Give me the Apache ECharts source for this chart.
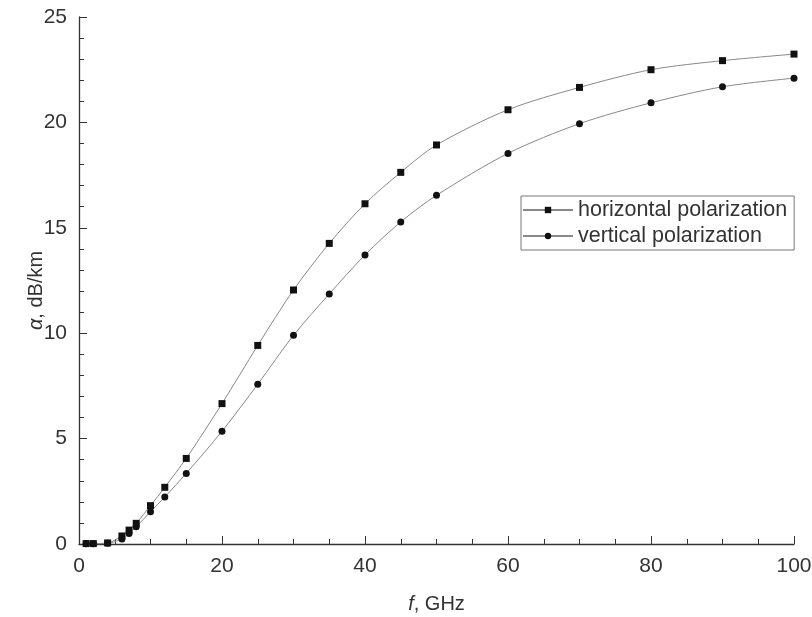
<!DOCTYPE html>
<html>
<head>
<meta charset="utf-8">
<script src="https://cdn.jsdelivr.net/npm/echarts@6/dist/echarts.min.js"></script>
<style>html,body{margin:0;padding:0;background:#fff;}#c{width:812px;height:617px;}</style>
</head>
<body>
<div id="c"></div>
<script>
var freq = [1, 2, 4, 6, 7, 8, 10, 12, 15, 20, 25, 30, 35, 40, 45, 50, 60, 70, 80, 90, 100];
var horizontal = [0.02, 0.02, 0.05, 0.38, 0.66, 0.98, 1.82, 2.69, 4.06, 6.66, 9.42, 12.05, 14.26, 16.14, 17.63, 18.93, 20.6, 21.66, 22.5, 22.93, 23.24];
var vertical = [0.01, 0.01, 0.03, 0.24, 0.5, 0.82, 1.53, 2.23, 3.35, 5.35, 7.58, 9.9, 11.86, 13.71, 15.28, 16.54, 18.53, 19.94, 20.93, 21.69, 22.1];
var seriesNames = ['horizontal polarization', 'vertical polarization'];

function pairs(xs, ys) { return xs.map(function (x, i) { return [x, ys[i]]; }); }

var font = 'Liberation Sans, Arial, sans-serif';
var chart = echarts.init(document.getElementById('c'), null, { renderer: 'canvas' });
chart.setOption({
  animation: false,
  backgroundColor: '#fff',
  textStyle: { fontFamily: font },
  grid: { left: 79, right: 18, top: 17, bottom: 73, containLabel: false, outerBoundsMode: 'none' },
  legend: {
    orient: 'vertical',
    left: 521, top: 196,
    padding: [3, 7, 3, 1],
    itemGap: 4,
    itemWidth: 50, itemHeight: 8,
    borderColor: '#777', borderWidth: 1,
    textStyle: { fontSize: 21.5, color: '#333', fontFamily: font },
    data: seriesNames
  },
  xAxis: {
    type: 'value', min: 0, max: 100, interval: 20,
    name: '{i|f}, GHz', nameLocation: 'middle', nameGap: 50, nameMoveOverlap: false,
    nameTextStyle: { fontSize: 20, color: '#333', verticalAlign: 'top', rich: { i: { fontStyle: 'italic', fontSize: 20, color: '#333' } } },
    axisLine: { lineStyle: { color: '#333', width: 1.3 } },
    axisTick: { inside: true, length: 8, lineStyle: { color: '#333' } },
    minorTick: { show: true, splitNumber: 4, length: 5, lineStyle: { color: '#333' } },
    axisLabel: { fontSize: 21, color: '#333', margin: 12 },
    splitLine: { show: false }
  },
  yAxis: {
    type: 'value', min: 0, max: 25, interval: 5,
    name: '{i|α}, dB/km', nameLocation: 'middle', nameGap: 33, nameMoveOverlap: false,
    nameTextStyle: { fontSize: 20, color: '#333', padding: [0, 20, 0, 0], rich: { i: { fontStyle: 'italic', fontSize: 20, color: '#333' } } },
    axisLine: { show: true, lineStyle: { color: '#333', width: 1.3 } },
    axisTick: { show: true, inside: true, length: 8, lineStyle: { color: '#333' } },
    minorTick: { show: true, splitNumber: 5, length: 5, lineStyle: { color: '#333' } },
    axisLabel: { fontSize: 21, color: '#333', margin: 12 },
    splitLine: { show: false }
  },
  series: [
    {
      name: seriesNames[0], type: 'line', smooth: 0.3,
      data: pairs(freq, horizontal),
      symbol: 'rect', symbolSize: 7,
      itemStyle: { color: '#111' },
      lineStyle: { color: '#888', width: 1 }
    },
    {
      name: seriesNames[1], type: 'line', smooth: 0.3,
      data: pairs(freq, vertical),
      symbol: 'circle', symbolSize: 7,
      itemStyle: { color: '#111' },
      lineStyle: { color: '#888', width: 1 }
    }
  ]
});
</script>
</body>
</html>
